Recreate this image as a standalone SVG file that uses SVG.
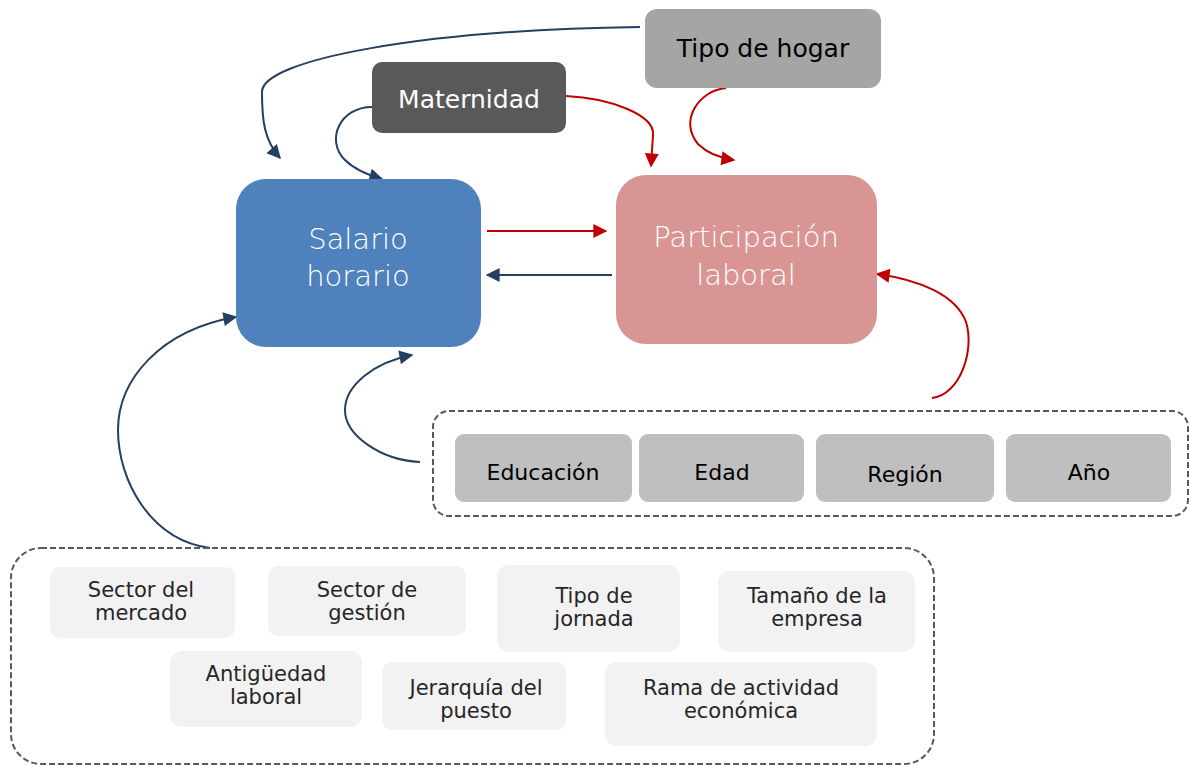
<svg xmlns="http://www.w3.org/2000/svg" width="1189" height="765" viewBox="0 0 1189 765">
<style>
.t{font-family:"DejaVu Sans","Liberation Sans",sans-serif;text-anchor:middle}
.big{font-size:29px;fill:#ffffff;font-weight:200}
.mid{font-size:25px}
.sm{font-size:21px;fill:#262626}
.cv{font-size:22px;fill:#000000}
.cov{fill:#bfbfbf}
.lt{fill:#f2f2f2}
.dash{fill:none;stroke:#595959;stroke-width:2;stroke-dasharray:6 3}
.nv{fill:none;stroke:#243f60;stroke-width:2}
.rd{fill:none;stroke:#c00000;stroke-width:2}
</style>
<defs>
<marker id="an" viewBox="0 0 10 10" refX="9" refY="5" markerWidth="16" markerHeight="14" markerUnits="userSpaceOnUse" orient="auto"><path d="M0 0 L10 5 L0 10 z" fill="#243f60"/></marker>
<marker id="ar" viewBox="0 0 10 10" refX="9" refY="5" markerWidth="16" markerHeight="14" markerUnits="userSpaceOnUse" orient="auto"><path d="M0 0 L10 5 L0 10 z" fill="#c00000"/></marker>
</defs>
<rect width="1189" height="765" fill="#ffffff"/>
<g id="connectors">
<path class="nv" marker-end="url(#an)" d="M640 27 C420 30 262 60 262 92 C262 120 264 140 280 158"/>
<path class="nv" marker-end="url(#an)" d="M372 107 C340 107 325 140 345 160 C355 170 368 175 382 179"/>
<path class="rd" marker-end="url(#ar)" d="M566 96 C610 98 655 115 653 135 L651 166"/>
<path class="rd" marker-end="url(#ar)" d="M726 88 C700 90 678 120 698 144 C708 154 720 158 734 160"/>
<path class="rd" marker-end="url(#ar)" d="M487 231 L606 231"/>
<path class="nv" marker-end="url(#an)" d="M612 275 L487 275"/>
<path class="rd" marker-end="url(#ar)" d="M932 398 C960 395 975 350 966 322 C956 295 920 280 877 274"/>
<path class="nv" marker-end="url(#an)" d="M420 462 C380 460 345 435 345 410 C345 385 375 362 412 355"/>
<path class="nv" marker-end="url(#an)" d="M210 548 C150 540 118 480 118 430 C118 380 160 330 236 317"/>
</g>
<g id="tipo-hogar"><rect x="645" y="9" width="236" height="79" rx="12" fill="#a5a5a5"/><text class="t mid" x="763" y="57" fill="#000000">Tipo de hogar</text></g>
<g id="maternidad"><rect x="372" y="62" width="194" height="71" rx="10" fill="#595959"/><text class="t mid" x="469" y="108" fill="#ffffff">Maternidad</text></g>
<g id="salario"><rect x="236" y="179" width="245" height="168" rx="30" fill="#4f81bd"/><text class="t big" x="358" y="249">Salario</text><text class="t big" x="358" y="286">horario</text></g>
<g id="participacion"><rect x="616" y="175" width="261" height="169" rx="30" fill="#d99594"/><text class="t big" x="746" y="247">Participación</text><text class="t big" x="746" y="285">laboral</text></g>
<g id="covariables">
<rect class="dash" x="433" y="411" width="755" height="105" rx="16"/>
<g id="educacion"><rect class="cov" x="455" y="434" width="177" height="68" rx="9"/><text class="t cv" x="543" y="480">Educación</text></g>
<g id="edad"><rect class="cov" x="639" y="434" width="165" height="68" rx="9"/><text class="t cv" x="722" y="480">Edad</text></g>
<g id="region"><rect class="cov" x="816" y="434" width="178" height="68" rx="9"/><text class="t cv" x="905" y="482">Región</text></g>
<g id="anio"><rect class="cov" x="1006" y="434" width="165" height="68" rx="9"/><text class="t cv" x="1089" y="480">Año</text></g>
</g>
<g id="laborales">
<rect class="dash" x="11" y="548" width="923" height="216" rx="30"/>
<g id="sector-mercado"><rect class="lt" x="50" y="567" width="185" height="71" rx="10"/><text class="t sm" x="141" y="597">Sector del</text><text class="t sm" x="141" y="620">mercado</text></g>
<g id="sector-gestion"><rect class="lt" x="268" y="566" width="198" height="70" rx="10"/><text class="t sm" x="367" y="597">Sector de</text><text class="t sm" x="367" y="620">gestión</text></g>
<g id="tipo-jornada"><rect class="lt" x="497" y="565" width="183" height="87" rx="12"/><text class="t sm" x="594" y="603">Tipo de</text><text class="t sm" x="594" y="626">jornada</text></g>
<g id="tamano"><rect class="lt" x="718" y="571" width="197" height="81" rx="12"/><text class="t sm" x="817" y="603">Tamaño de la</text><text class="t sm" x="817" y="626">empresa</text></g>
<g id="antiguedad"><rect class="lt" x="170" y="651" width="192" height="76" rx="12"/><text class="t sm" x="266" y="681">Antigüedad</text><text class="t sm" x="266" y="704">laboral</text></g>
<g id="jerarquia"><rect class="lt" x="382" y="662" width="184" height="68" rx="10"/><text class="t sm" x="476" y="695">Jerarquía del</text><text class="t sm" x="476" y="718">puesto</text></g>
<g id="rama"><rect class="lt" x="605" y="662" width="272" height="84" rx="12"/><text class="t sm" x="741" y="695">Rama de actividad</text><text class="t sm" x="741" y="718">económica</text></g>
</g>
</svg>
